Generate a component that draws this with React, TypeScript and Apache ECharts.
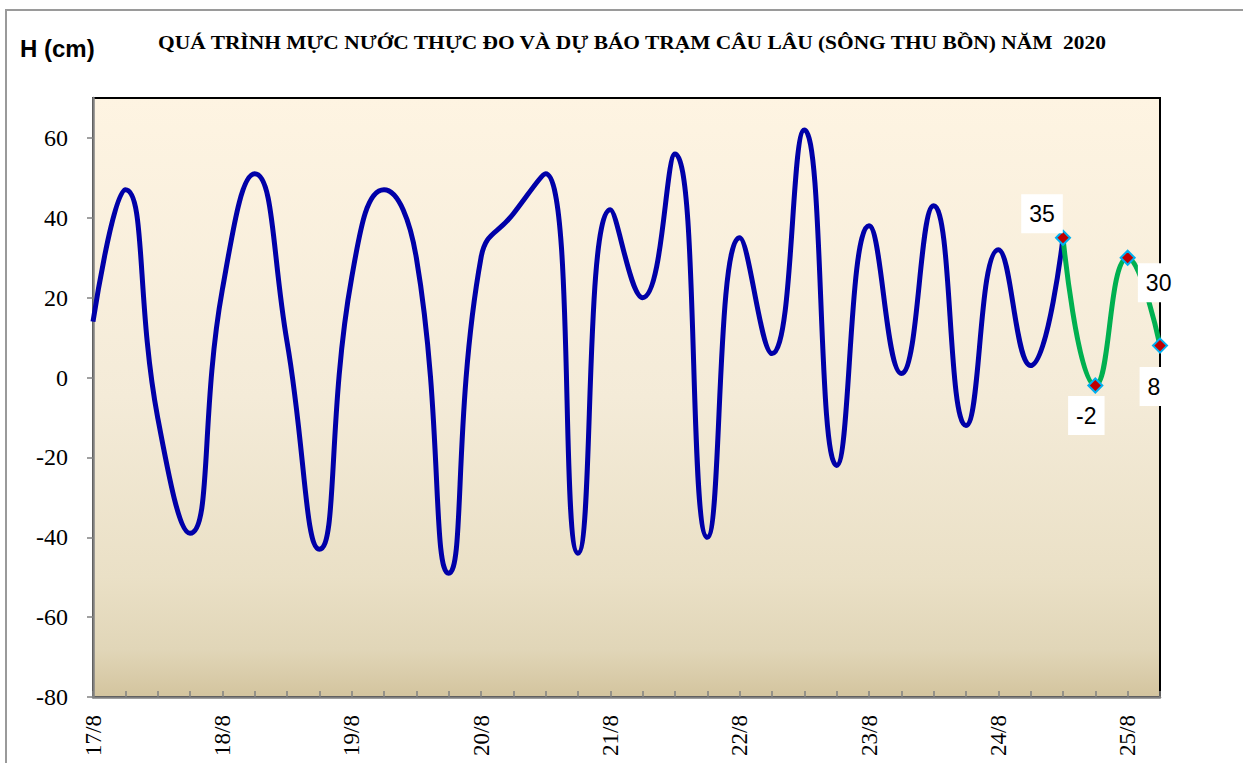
import React, { useEffect, useRef } from "react";
import * as echarts from "echarts";

// 6-hourly observations from 17/8 00h to 24/8 12h
const obsLevels = [14, 47, -10, -39, 22, 51, 9, -43, 25, 47, 30, -49, 30, 41, 51, -44, 42, 20, 56, -40, 35, 6, 62, -22, 38, 1, 43, -12, 32, 3, 35];
// forecast 24/8 12h .. 25/8 06h
const fcLevels = [35, -2, 30, 8];
// label offsets for forecast values (dx, dy)
const fcLabelOffsets = [[-21, -24], [-9, 30], [31, 25], [-6, 41]];

const dayLabels = ["17/8", "18/8", "19/8", "20/8", "21/8", "22/8", "23/8", "24/8", "25/8"];
const hourSuffixes = ["", " 06h", " 12h", " 18h"];
const yTickLabels = ["-80", "-60", "-40", "-20", "0", "20", "40", "60"];

const titleText = "QUÁ TRÌNH MỰC NƯỚC THỰC ĐO VÀ DỰ BÁO TRẠM CÂU LÂU (SÔNG THU BỒN) NĂM  2020";
const yUnit = "H (cm)";

const SERIF = "Liberation Serif";
const SANS = "Liberation Sans";

export default function App() {
  const ref = useRef<HTMLDivElement>(null);
  useEffect(() => {
    if (!ref.current) return;
    const chart = echarts.init(ref.current, undefined, { renderer: "svg" });
    const categories: string[] = [];
    dayLabels.forEach((d) => hourSuffixes.forEach((s) => categories.push(d + s)));
    const total = obsLevels.length + fcLevels.length - 1; // shared point at 24/8 12h
    categories.length = total;
    const fcStart = obsLevels.length - 1;
    const fcData: any[] = categories.map(() => "-");
    fcLevels.forEach((v, i) => {
      fcData[fcStart + i] = { value: v, label: { offset: fcLabelOffsets[i] } };
    });
    chart.setOption({
      animation: false,
      backgroundColor: "#ffffff",
      graphic: [
        {
          type: "rect",
          shape: { x: 6, y: 10, width: 1400, height: 900 },
          style: { fill: "none", stroke: "#9a9a9a", lineWidth: 2 },
          silent: true,
          z: -10,
        },
        {
          type: "text",
          x: 20,
          y: 48,
          style: {
            text: yUnit,
            fontSize: 24,
            fontWeight: "bold",
            fontFamily: SANS,
            fill: "#000",
            verticalAlign: "middle",
          },
        },
        {
          type: "text",
          x: 632,
          y: 43,
          scaleX: 1.19,
          style: {
            text: titleText,
            fontSize: 18,
            fontWeight: "bold",
            fontFamily: SERIF,
            fill: "#000",
            align: "center",
            verticalAlign: "middle",
          },
        },
      ],
      grid: {
        left: 93,
        top: 98,
        right: 83,
        bottom: 66,
        show: true,
        borderColor: "#000",
        borderWidth: 2,
        backgroundColor: new echarts.graphic.LinearGradient(0, 0, 0, 1, [
          { offset: 0, color: "#FEF4E2" },
          { offset: 0.5, color: "#F4EBD8" },
          { offset: 0.8, color: "#EAE0C6" },
          { offset: 0.92, color: "#E1D6B8" },
          { offset: 1, color: "#D3C49E" },
        ]),
      },
      xAxis: {
        type: "category",
        data: categories,
        boundaryGap: false,
        axisLine: { show: true, onZero: false, lineStyle: { color: "#808080", width: 2.5 } },
        axisTick: { show: true, inside: true, interval: 0, length: 6, lineStyle: { color: "#808080", width: 1.5 } },
        splitLine: { show: false },
        axisLabel: {
          interval: 3,
          rotate: 90,
          margin: 18,
          fontSize: 23,
          fontFamily: SERIF,
          color: "#000",
        },
      },
      yAxis: {
        type: "value",
        min: -80,
        max: 70,
        interval: 20,
        axisLine: { show: true, lineStyle: { color: "#808080", width: 2.5 } },
        axisTick: { show: true, inside: false, length: 6, lineStyle: { color: "#808080", width: 1.5 } },
        splitLine: { show: false },
        axisLabel: {
          margin: 25,
          fontSize: 24,
          fontFamily: SERIF,
          color: "#000",
          showMaxLabel: false,
        },
      },
      series: [
        {
          type: "line",
          data: obsLevels,
          smooth: 0.5,
          symbol: "none",
          lineStyle: { color: "#0000A8", width: 5 },
          z: 2,
        },
        {
          type: "line",
          data: fcData,
          smooth: 0.5,
          symbol: "diamond",
          symbolSize: 14,
          lineStyle: { color: "#00B050", width: 5 },
          itemStyle: { color: "#C00000", borderColor: "#00B0F0", borderWidth: 2 },
          label: {
            show: true,
            position: "inside",
            fontSize: 23,
            fontFamily: SANS,
            color: "#000",
            backgroundColor: "#ffffff",
            padding: [8, 8],
          },
          z: 3,
        },
      ],
    });
    // make sure axis tick labels use the serif face
    const axisTexts = new Set([...dayLabels, ...yTickLabels]);
    const root = ref.current;
    const fixFonts = () => {
      root.querySelectorAll("text").forEach((t) => {
        const s = (t.textContent || "").trim();
        const isSeriesLabel = t.closest("g") && false;
        if (axisTexts.has(s) && !isSeriesLabel) {
          const el = t as unknown as SVGElement;
          const fam = el.getAttribute("font-family");
          if (fam !== null) el.setAttribute("font-family", SERIF);
          el.style.setProperty("font-family", `"${SERIF}", serif`, "important");
        }
      });
    };
    fixFonts();
    chart.on("finished", fixFonts);
    return () => chart.dispose();
  }, []);
  return (
    <div
      ref={ref}
      style={{ position: "fixed", left: 0, top: 0, width: 1243, height: 763 }}
    />
  );
}
